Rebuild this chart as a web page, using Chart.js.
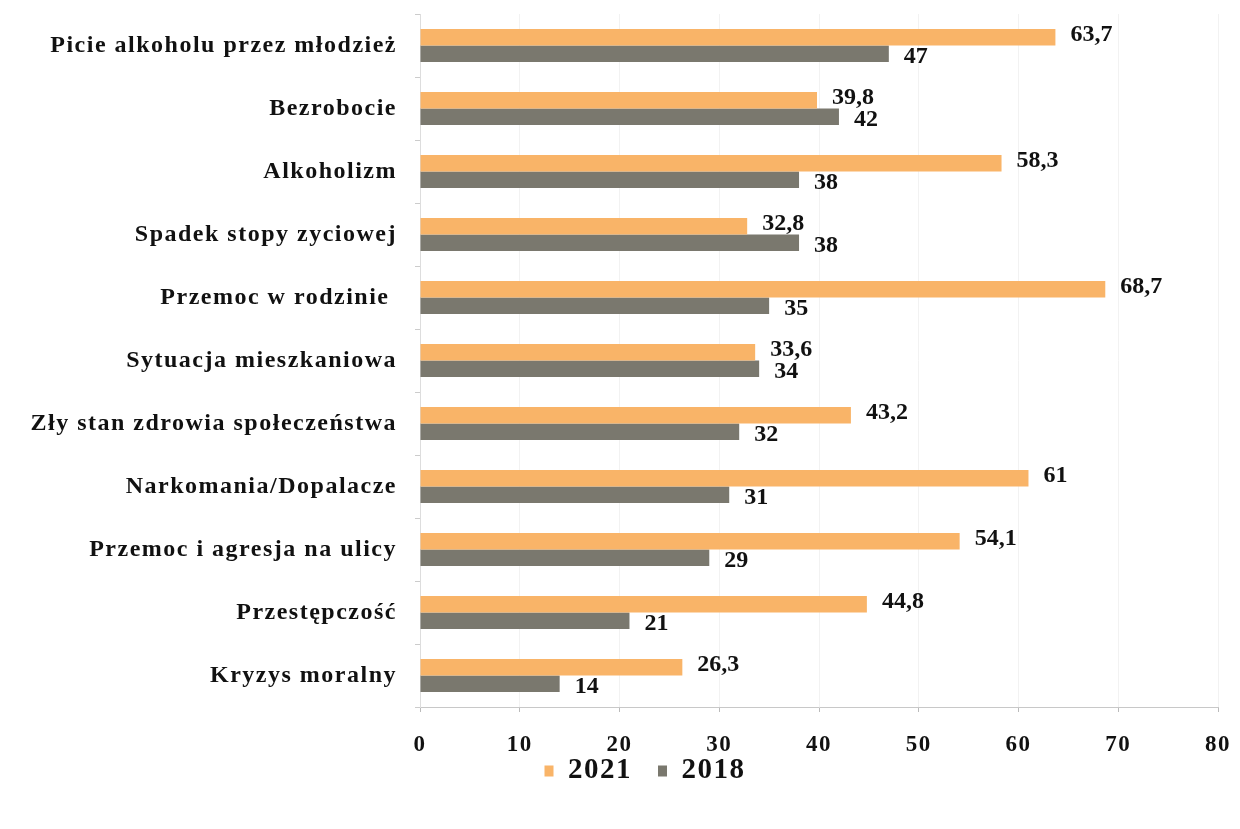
<!DOCTYPE html>
<html>
<head>
<meta charset="utf-8">
<script src="https://cdn.jsdelivr.net/npm/chart.js@4.4.0/dist/chart.umd.min.js"></script>
<style>
  html, body { margin: 0; padding: 0; background: #fff; }
  #wrap { width: 1240px; height: 829px; }
</style>
</head>
<body>
<div id="wrap"><canvas id="chart"></canvas></div>
<script>
var categories = ['Picie alkoholu przez młodzież', 'Bezrobocie', 'Alkoholizm', 'Spadek stopy zyciowej',
    'Przemoc w rodzinie ', 'Sytuacja mieszkaniowa', 'Zły stan zdrowia społeczeństwa', 'Narkomania/Dopalacze',
    'Przemoc i agresja na ulicy', 'Przestępczość', 'Kryzys moralny'];
var values2021 = [63.7, 39.8, 58.3, 32.8, 68.7, 33.6, 43.2, 61, 54.1, 44.8, 26.3];
var values2018 = [47, 42, 38, 38, 35, 34, 32, 31, 29, 21, 14];
var xTicks = [0, 10, 20, 30, 40, 50, 60, 70, 80];

var serif = '"Liberation Serif", "DejaVu Serif", serif';

// the scanned text is spaced out a bit, so widen it
var spacing = {
    id: 'spacing',
    beforeLayout: function(chart) { chart.ctx.letterSpacing = '1.5px'; },
    beforeDraw: function(chart) { chart.ctx.letterSpacing = '1.5px'; },
    afterLayout: function(chart) {
        // pull the legend up close to the tick labels, a bit right of centre
        var l = chart.legend;
        var d = 763 - (l.top + l.height / 2);
        l.top += d;
        l.bottom += d;
        l.left += 36;
        l.right += 36;
    }
};

// value labels at the end of each bar
var barLabels = {
    id: 'barLabels',
    afterDatasetsDraw: function(chart) {
        var ctx = chart.ctx;
        ctx.save();
        ctx.letterSpacing = '0px';
        ctx.font = 'bold 24px ' + serif;
        ctx.fillStyle = '#111';
        ctx.textBaseline = 'middle';
        ctx.textAlign = 'left';
        chart.data.datasets.forEach(function(ds, i) {
            var meta = chart.getDatasetMeta(i);
            meta.data.forEach(function(bar, j) {
                var txt = String(ds.data[j]).replace('.', ',');
                var dy = i === 0 ? -3 : 3;
                ctx.fillText(txt, bar.x + 15, bar.y + dy);
            });
        });
        ctx.restore();
    }
};

var ctx = document.getElementById('chart').getContext('2d');
var myChart = new Chart(ctx, {
    type: 'bar',
    data: {
        labels: categories,
        datasets: [{
            label: '2021',
            data: values2021,
            backgroundColor: 'rgb(249, 180, 104)',
            barPercentage: 1,
            categoryPercentage: 0.52
        },
        {
            label: '2018',
            data: values2018,
            backgroundColor: 'rgb(122, 120, 110)',
            barPercentage: 1,
            categoryPercentage: 0.52
        }]
    },
    plugins: [spacing, barLabels],
    options: {
        indexAxis: 'y',
        responsive: true,
        maintainAspectRatio: false,
        animation: false,
        layout: {
            padding: { top: 14, right: 22, bottom: 5, left: 0 }
        },
        plugins: {
            tooltip: { enabled: false },
            legend: {
                position: 'bottom',
                labels: {
                    font: { family: serif, size: 29, weight: 'bold' },
                    color: '#111',
                    boxWidth: 9,
                    boxHeight: 11,
                    padding: 26
                }
            }
        },
        scales: {
            x: {
                min: 0,
                max: 80,
                afterBuildTicks: function(scale) {
                    scale.ticks = xTicks.map(function(v) { return { value: v }; });
                },
                afterFit: function(scale) {
                    scale.height = 52;
                    scale.paddingLeft = 0;
                    scale.paddingRight = 0;
                },
                grid: {
                    color: '#f2f2f2',
                    tickColor: '#bbb',
                    tickLength: 5
                },
                border: { color: '#c8c8c8' },
                ticks: {
                    font: { family: serif, size: 23, weight: 'bold' },
                    color: '#111',
                    padding: 19
                }
            },
            y: {
                afterFit: function(scale) {
                    scale.width = 420;
                    scale.paddingTop = 0;
                    scale.paddingBottom = 0;
                },
                grid: {
                    offset: true,
                    drawOnChartArea: false,
                    tickColor: '#ccc',
                    tickLength: 5
                },
                border: { color: '#ddd' },
                ticks: {
                    font: { family: serif, size: 24, weight: 'bold' },
                    color: '#111',
                    padding: 18
                }
            }
        }
    }
});
</script>
</body>
</html>
